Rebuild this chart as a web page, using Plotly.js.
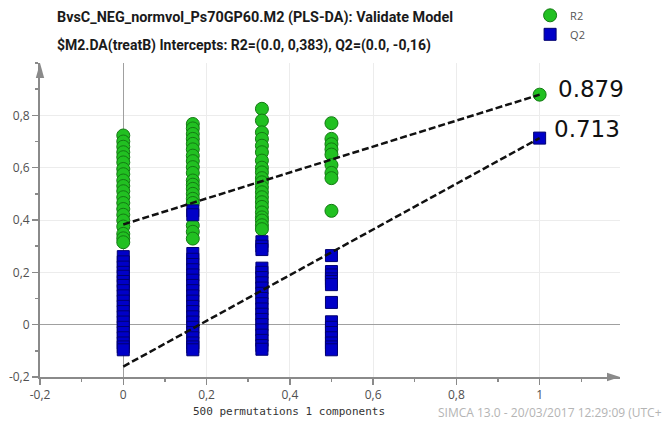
<!DOCTYPE html>
<html>
<head>
<meta charset="utf-8">
<script src="https://cdn.plot.ly/plotly-3.0.1.min.js"></script>
<style>html,body{margin:0;padding:0;background:#fff;}#chart{width:664px;height:427px;}</style>
</head>
<body>
<div id="chart"></div>
<script>
// correlation of permuted Y with original Y (x positions of permutation columns)
const corrCols = [0, 0.167, 0.333, 0.5];
// R2 values of permuted models, per column
const r2Perm = [
  [0.723, 0.70, 0.68, 0.659, 0.64, 0.62, 0.595, 0.575, 0.551, 0.53, 0.51, 0.487, 0.465, 0.442, 0.42, 0.398, 0.375, 0.347, 0.33, 0.315],
  [0.767, 0.75, 0.729, 0.71, 0.691, 0.67, 0.646, 0.625, 0.602, 0.58, 0.551, 0.535, 0.519, 0.50, 0.481, 0.465, 0.379, 0.355, 0.329],
  [0.825, 0.78, 0.735, 0.71, 0.684, 0.659, 0.627, 0.60, 0.582, 0.56, 0.544, 0.525, 0.506, 0.487, 0.468, 0.45, 0.429, 0.41, 0.398, 0.38, 0.365],
  [0.77, 0.71, 0.69, 0.67, 0.65, 0.61, 0.58, 0.56, 0.435]
];
// Q2 values of permuted models, per column
const q2Perm = [
  [0.26, 0.24, 0.22, 0.20, 0.185, 0.165, 0.15, 0.13, 0.11, 0.09, 0.07, 0.05, 0.03, 0.01, -0.01, -0.03, -0.05, -0.07, -0.085, -0.096],
  [0.435, 0.42, 0.272, 0.25, 0.23, 0.21, 0.19, 0.17, 0.15, 0.13, 0.11, 0.09, 0.07, 0.05, 0.03, 0.01, -0.01, -0.03, -0.05, -0.07, -0.085, -0.096],
  [0.317, 0.30, 0.287, 0.216, 0.20, 0.18, 0.16, 0.14, 0.12, 0.10, 0.08, 0.06, 0.04, 0.02, 0.0, -0.02, -0.04, -0.06, -0.08, -0.094],
  [0.264, 0.203, 0.19, 0.175, 0.165, 0.153, 0.085, 0.011, -0.01, -0.03, -0.05, -0.07, -0.085, -0.096]
];
// original (unpermuted) model
const origCorr = 1;
const origR2 = 0.879;
const origQ2 = 0.713;
// regression-line intercepts
const r2Intercept = 0.383;
const q2Intercept = -0.16;

const xTickVals = [-0.2, 0, 0.2, 0.4, 0.6, 0.8, 1];
const xTickText = ['-0,2', '0', '0,2', '0,4', '0,6', '0,8', '1'];
const yTickVals = [-0.2, 0, 0.2, 0.4, 0.6, 0.8];
const yTickText = ['-0,2', '0', '0,2', '0,4', '0,6', '0,8'];

const titleLine1 = 'BvsC_NEG_normvol_Ps70GP60.M2 (PLS-DA): Validate Model';
const titleLine2 = '$M2.DA(treatB) Intercepts: R2=(0.0, 0,383), Q2=(0.0, -0,16)';
const xLabel = '500 permutations 1 components';
const footer = 'SIMCA 13.0 - 20/03/2017 12:29:09 (UTC+';

function flatten(cols, vals) {
  const xs = [], ys = [];
  cols.forEach((c, i) => vals[i].forEach(v => { xs.push(c); ys.push(v); }));
  return [xs, ys];
}
const [r2X, r2Y] = flatten(corrCols, r2Perm);
r2X.push(origCorr); r2Y.push(origR2);
const [q2X, q2Y] = flatten(corrCols, q2Perm);
q2X.push(origCorr); q2Y.push(origQ2);

const traces = [
  {
    x: r2X, y: r2Y, type: 'scatter', mode: 'markers', name: 'R2',
    marker: {symbol: 'circle', size: 13, color: '#21c021', line: {color: '#137a13', width: 1}}
  },
  {
    x: q2X, y: q2Y, type: 'scatter', mode: 'markers', name: 'Q2',
    marker: {symbol: 'square', size: 12, color: '#0000c8', line: {color: '#000070', width: 1}}
  },
  {
    x: [0, origCorr], y: [r2Intercept, origR2], type: 'scatter', mode: 'lines', showlegend: false,
    line: {color: '#111', width: 2.5, dash: '7px,3px'}, hoverinfo: 'skip'
  },
  {
    x: [0, origCorr], y: [q2Intercept, origQ2], type: 'scatter', mode: 'lines', showlegend: false,
    line: {color: '#111', width: 2.5, dash: '7px,3px'}, hoverinfo: 'skip'
  }
];

const axisCommon = {
  showline: true, linecolor: '#8a8a8a', linewidth: 2,
  showgrid: true, gridcolor: '#ececec', gridwidth: 1,
  zeroline: true, zerolinecolor: '#a0a0a0', zerolinewidth: 1.5,
  ticks: 'outside', ticklen: 6, tickwidth: 1.5, tickcolor: '#8a8a8a',
  tickfont: {family: 'Open Sans, sans-serif', size: 12, color: '#505050'},
  tickmode: 'array', automargin: false,
  minor: {tickmode: 'linear', tick0: 0, dtick: 0.1, ticks: 'outside', ticklen: 3, tickcolor: '#8a8a8a', showgrid: false},
  fixedrange: true
};

const layout = {
  width: 664, height: 427,
  margin: {l: 40, r: 44, t: 63, b: 50, autoexpand: false},
  paper_bgcolor: '#fff', plot_bgcolor: '#fff',
  title: {
    text: titleLine1, x: 57 / 664, xanchor: 'left', xref: 'container',
    y: 1 - 17 / 427, yref: 'container', yanchor: 'middle', pad: {l: 0, r: 0, t: 0, b: 0},
    font: {family: 'Roboto, sans-serif', size: 14.4, weight: 'bold', color: '#1a1a1a'}
  },
  xaxis: Object.assign({}, axisCommon, {range: [-0.2, 1.193], tickvals: xTickVals, ticktext: xTickText}),
  yaxis: Object.assign({}, axisCommon, {range: [-0.2, 1.0], tickvals: yTickVals, ticktext: yTickText}),
  showlegend: true,
  legend: {
    x: 0.845, y: 1.198, xanchor: 'left', yanchor: 'top',
    font: {family: 'Open Sans, sans-serif', size: 11, color: '#555'},
    bgcolor: 'rgba(0,0,0,0)', tracegroupgap: 0, itemwidth: 30
  },
  annotations: [
    {xref: 'paper', yref: 'paper', x: (244 - 40) / 580, y: (377 - 45) / 314, xanchor: 'center', yanchor: 'middle',
     text: titleLine2, showarrow: false,
     font: {family: 'Roboto, sans-serif', size: 14, weight: 'bold', color: '#1a1a1a'}},
    {xref: 'x', yref: 'y', x: origCorr, y: origR2, xanchor: 'left', yanchor: 'middle', xshift: 16, yshift: 6,
     text: origR2.toFixed(3), showarrow: false,
     font: {family: 'DejaVu Sans, sans-serif', size: 23, color: '#111'}},
    {xref: 'x', yref: 'y', x: origCorr, y: origQ2, xanchor: 'left', yanchor: 'middle', xshift: 12, yshift: 9,
     text: origQ2.toFixed(3), showarrow: false,
     font: {family: 'DejaVu Sans, sans-serif', size: 23, color: '#111'}},
    {xref: 'paper', yref: 'paper', x: (289 - 40) / 580, y: (377 - 411) / 314, xanchor: 'center', yanchor: 'middle',
     text: xLabel, showarrow: false,
     font: {family: 'DejaVu Sans Mono, monospace', size: 11, color: '#333'}},
    {xref: 'paper', yref: 'paper', x: (664 - 40) / 580, y: (377 - 412) / 314, xanchor: 'right', yanchor: 'middle',
     text: footer, showarrow: false,
     font: {family: 'Open Sans, sans-serif', size: 12, color: '#b4b4b4'}}
  ],
  shapes: [
    // x-axis arrow head
    {type: 'path', xref: 'paper', yref: 'paper', path: 'M 1 0 L 0.9776 0.0135 L 0.9776 -0.0135 Z',
     fillcolor: '#8a8a8a', line: {width: 0}},
    // y-axis arrow head
    {type: 'path', xref: 'paper', yref: 'paper', path: 'M 0 1 L -0.0072 0.952 L 0.0072 0.952 Z',
     fillcolor: '#8a8a8a', line: {width: 0}}
  ]
};

Plotly.newPlot('chart', traces, layout, {displayModeBar: false, staticPlot: true});
</script>
</body>
</html>
